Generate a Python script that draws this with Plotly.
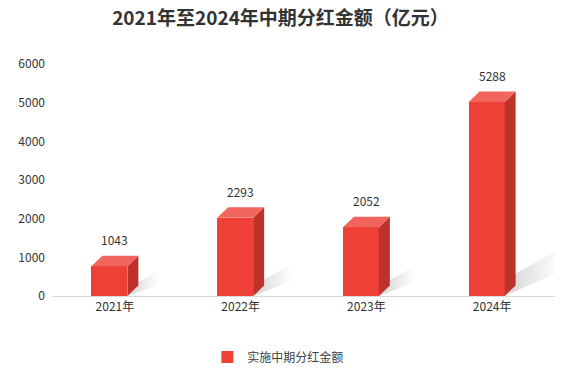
import plotly.graph_objects as go

categories = ["2021年", "2022年", "2023年", "2024年"]
values = [1043, 2293, 2052, 5288]
series_name = "实施中期分红金额"
title_text = "2021年至2024年中期分红金额（亿元）"
y_ticks = [0, 1000, 2000, 3000, 4000, 5000, 6000]

# layout geometry (pixels)
W, H = 561, 374
ML, MR, MT, MB = 52, 6, 64, 78
PW, PH = W - ML - MR, H - MT - MB
XR = (-0.5, 3.5)
YR = (0, 6000)
px_x = (XR[1] - XR[0]) / PW
px_y = (YR[1] - YR[0]) / PH

w_u = 36 * px_x      # front face width
dx_u = 11 * px_x     # depth x
dy_u = 10.5 * px_y   # depth y

FRONT = "#ee4036"
SIDE = "#bf322c"
TOP = "#f2645e"
FONT = "Noto Sans CJK SC, Microsoft YaHei, sans-serif"

fig = go.Figure()
idx = list(range(len(categories)))

# shadows
for i, v in zip(idx, values):
    xs = i - dx_u / 2 + w_u / 2 + dx_u
    L = (14 + v * 0.006) * px_x
    thick = (12 + v * 0.002) * px_y
    rise = 0.55 * (14 + v * 0.006) * px_y
    fig.add_trace(go.Scatter(
        x=[xs - dx_u, xs, xs + L, xs + L, xs - dx_u],
        y=[0, thick, thick + rise, rise, 0],
        mode="lines", line=dict(width=0), fill="toself",
        fillgradient=dict(type="horizontal",
                          colorscale=[[0, "rgba(0,0,0,0.17)"], [1, "rgba(0,0,0,0.0)"]]),
        hoverinfo="skip", showlegend=False,
    ))

# front faces
fig.add_trace(go.Bar(
    x=[i - dx_u / 2 for i in idx],
    y=[v - dy_u for v in values],
    width=w_u, marker=dict(color=FRONT, line=dict(width=0)),
    name=series_name, hoverinfo="skip", showlegend=True,
))

# side and top faces
for i, v in zip(idx, values):
    fl = i - dx_u / 2 - w_u / 2
    fr = i - dx_u / 2 + w_u / 2
    fig.add_trace(go.Scatter(
        x=[fr, fr + dx_u, fr + dx_u, fr, fr],
        y=[0, dy_u, v, v - dy_u, 0],
        mode="lines", line=dict(width=0), fill="toself", fillcolor=SIDE,
        hoverinfo="skip", showlegend=False,
    ))
    fig.add_trace(go.Scatter(
        x=[fl, fl + dx_u, fr + dx_u, fr, fl],
        y=[v - dy_u, v, v, v - dy_u, v - dy_u],
        mode="lines", line=dict(width=0), fill="toself", fillcolor=TOP,
        hoverinfo="skip", showlegend=False,
    ))

for i, v in zip(idx, values):
    fig.add_annotation(x=i, y=v, text=str(v), showarrow=False, yshift=16,
                       font=dict(size=12, color="#333333", family=FONT))

fig.update_layout(
    width=W, height=H,
    margin=dict(l=ML, r=MR, t=MT, b=MB, autoexpand=False),
    paper_bgcolor="white", plot_bgcolor="white",
    title=dict(text="<b>" + title_text + "</b>", x=0.5, xanchor="center",
               y=1 - 18 / H, yanchor="middle",
               font=dict(size=19, color="#333333", family=FONT)),
    font=dict(family=FONT, size=12, color="#333333"),
    showlegend=True,
    legend=dict(orientation="h", x=0.45, xanchor="center", y=-(357 - (H - MB)) / PH,
                yanchor="middle", font=dict(size=12, color="#404040", family=FONT),
                itemwidth=30),
    bargap=0,
)
fig.update_xaxes(range=list(XR), tickvals=idx, ticktext=categories, showgrid=False,
                 showline=True, linecolor="#d9d9d9", linewidth=1, ticks="",
                 zeroline=False, fixedrange=True,
                 tickfont=dict(size=12, color="#333333", family=FONT))
fig.update_yaxes(range=list(YR), tickvals=y_ticks, showgrid=False, showline=False,
                 zeroline=False, ticks="", fixedrange=True, ticklabelstandoff=6,
                 tickfont=dict(size=12, color="#333333", family=FONT))

fig.write_html("out.html", config={"displayModeBar": False},
               post_script="document.body.style.margin='0';document.body.style.overflow='hidden';")
